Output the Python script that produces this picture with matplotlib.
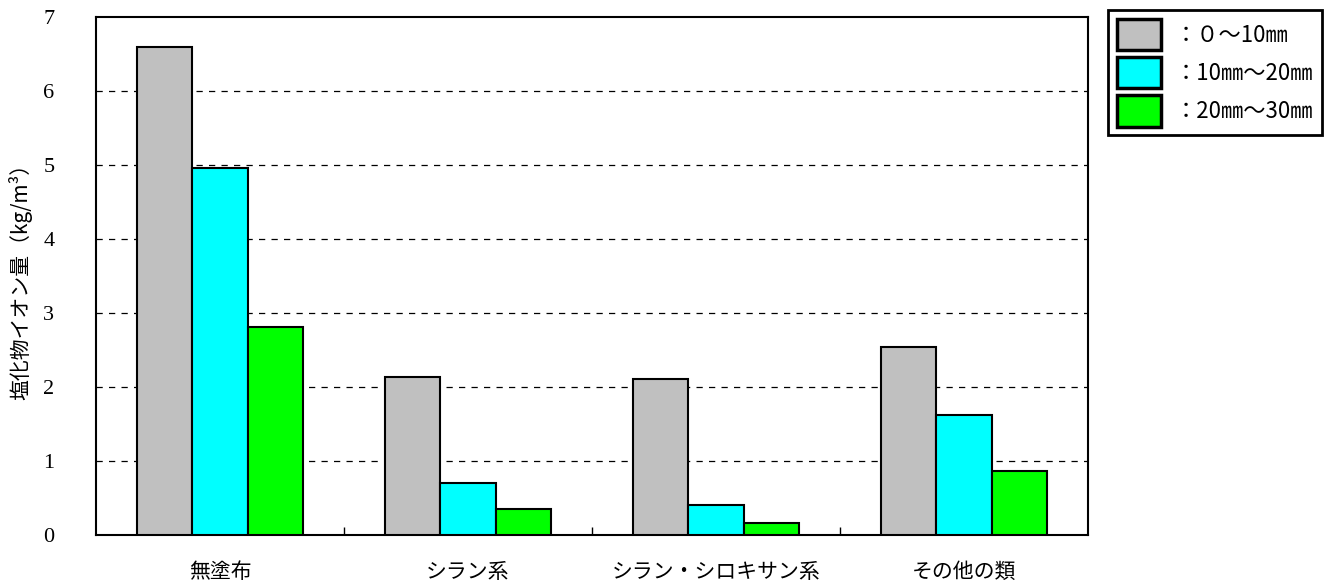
import numpy as np
import matplotlib
matplotlib.use("Agg")
import matplotlib.pyplot as plt
from matplotlib.patches import Patch
from matplotlib.ticker import FixedLocator

plt.rcParams['font.family'] = ['Noto Sans CJK JP', 'DejaVu Sans']

categories = ["無塗布", "シラン系", "シラン・シロキサン系", "その他の類"]
series_labels = ["：０～10㎜", "：10㎜～20㎜", "：20㎜～30㎜"]
depth_0_10 = [6.59, 2.14, 2.11, 2.54]
depth_10_20 = [4.96, 0.70, 0.41, 1.62]
depth_20_30 = [2.81, 0.35, 0.16, 0.86]
colors = ["#c0c0c0", "#00ffff", "#00ff00"]

fig = plt.figure(figsize=(13.43, 5.88), dpi=100)
ax = fig.add_axes([96/1343, 1-535/588, (1088-96)/1343, (535-17)/588])

x = np.arange(len(categories))
w = 0.222
for i, vals in enumerate([depth_0_10, depth_10_20, depth_20_30]):
    ax.bar(x + (i-1)*w, vals, width=w, color=colors[i], edgecolor="black",
           linewidth=1.5, zorder=3)

ax.set_xlim(-0.5, len(categories)-0.5)
ax.set_ylim(0, 7)
ax.set_yticks(range(8))
ax.set_yticklabels([str(v) for v in range(8)], family=['Liberation Serif'], fontsize=16)
for yv in range(1, 7):
    ax.axhline(yv, color="black", lw=0.9, ls=(0, (5, 5)), zorder=1)

ax.set_xticks(x)
ax.set_xticklabels(categories, fontsize=15)
ax.xaxis.set_minor_locator(FixedLocator(x[:-1] + 0.5))
ax.tick_params(axis='x', which='major', length=0, pad=19)
ax.tick_params(axis='x', which='minor', direction='in', length=6, width=1)
ax.tick_params(axis='y', length=0, pad=30)
ax.set_ylabel("塩化物イオン量（kg/m³）", fontsize=15, labelpad=8)
for s in ax.spines.values():
    s.set_linewidth(1.5)

handles = [Patch(facecolor=c, edgecolor="black", linewidth=2.5) for c in colors]
leg = fig.legend(handles, series_labels, loc="upper left",
                 bbox_to_anchor=(1108/1343, 1-10/588), fontsize=16,
                 handlelength=2.0, handleheight=1.8, handletextpad=0.6,
                 labelspacing=0.3, borderpad=0.4, borderaxespad=0,
                 fancybox=False, edgecolor="black", framealpha=1)
leg.get_frame().set_linewidth(2)

fig.savefig("out.png", dpi=100)
